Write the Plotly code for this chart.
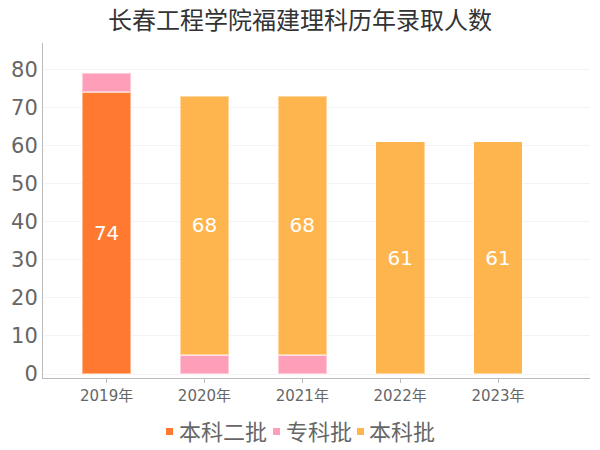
import plotly.graph_objects as go

years = ["2019年", "2020年", "2021年", "2022年", "2023年"]
series_names = ["本科二批", "专科批", "本科批"]
benke2 = [74, None, None, None, None]
zhuanke = [5, 5, 5, None, None]
benke = [None, 68, 68, 61, 61]

colors = ["#FF7A30", "#FF9EB8", "#FFB54D"]
FONT = "DejaVu Sans, Noto Sans CJK SC, sans-serif"
edge = dict(color="rgba(255,255,255,0.45)", width=1.5)

# plot area in pixels (used to place the hand-drawn legend)
L, R, T, B = 43, 590, 43, 378


def px_x(p):
    return (p - L) / (R - L)


def px_y(p):
    return (B - p) / (B - T)


fig = go.Figure()
for name, vals, col, show_text in zip(series_names, [benke2, zhuanke, benke], colors,
                                      [True, False, True]):
    fig.add_trace(go.Bar(
        name=name, x=years, y=vals, marker_color=col, marker_line=edge,
        text=vals if show_text else None, textposition="inside",
        insidetextanchor="middle", textfont=dict(color="white", size=20),
        showlegend=False,
    ))

# legend: small square + label, laid out tightly like the original
sq_left = [166, 273, 357]
txt_left = [178, 285, 368]
shapes, annotations = [], []
for name, col, sx, tx in zip(series_names, colors, sq_left, txt_left):
    shapes.append(dict(type="rect", xref="paper", yref="paper",
                       x0=px_x(sx), x1=px_x(sx + 7), y0=px_y(435), y1=px_y(428),
                       fillcolor=col, line_width=0))
    annotations.append(dict(text=name, xref="paper", yref="paper",
                            x=px_x(tx - 1), y=px_y(432), xanchor="left", yanchor="middle",
                            showarrow=False, font=dict(size=22, color="#666")))

fig.update_layout(
    barmode="stack",
    bargap=0.5,
    width=600, height=450,
    paper_bgcolor="white", plot_bgcolor="white",
    font=dict(family=FONT, color="#666"),
    title=dict(text="长春工程学院福建理科历年录取人数", x=0.5, xanchor="center",
               y=0.955, yanchor="middle", font=dict(size=24, color="#333")),
    margin=dict(l=L, r=600 - R, t=T, b=450 - B, autoexpand=False),
    xaxis=dict(range=[-0.65, 4.94], showline=True, linecolor="#bbb", linewidth=1,
               ticks="outside", tickcolor="#bbb", ticklen=4, automargin=False,
               tickfont=dict(size=15, color="#666")),
    yaxis=dict(range=[-1.05, 86.9], showline=True, linecolor="#bbb", linewidth=1,
               ticks="", dtick=10, automargin=False,
               gridcolor="#f3f3f3", zeroline=False,
               tickfont=dict(size=21, color="#666")),
    shapes=shapes,
    annotations=annotations,
)

# browsers add an 8px body margin by default; drop it so the chart sits at 0,0
fig.write_html("out.html", config={"displayModeBar": False},
               post_script="document.body.style.margin='0';")
